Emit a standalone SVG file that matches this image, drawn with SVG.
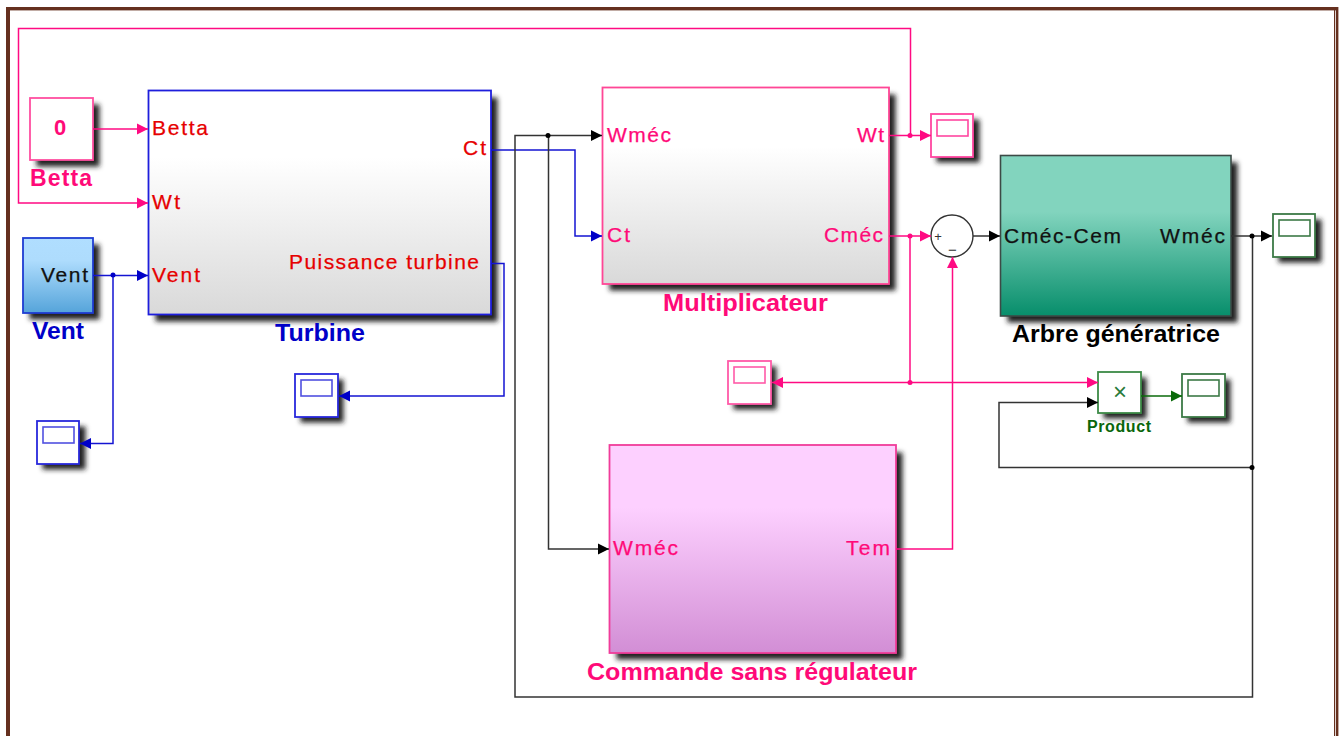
<svg xmlns="http://www.w3.org/2000/svg" width="1343" height="736" viewBox="0 0 1343 736">
<style>
text{font-family:"Liberation Sans",Arial,sans-serif}
.port{font-size:21px;stroke:currentColor;stroke-width:.25}
.title{font-size:23px;font-weight:bold}
.red{fill:#e60000;color:#e60000}
.pink{fill:#ff0a78;color:#ff0a78}
.blue{fill:#0000c8}
.dark{fill:#111;color:#111}
.w{fill:none;stroke-width:1.5}
.wp{stroke:#ff0a82}.wb{stroke:#1414d2}.wk{stroke:#333}.wg{stroke:#0a6a0a}
.shadow{fill:#222;filter:url(#blur);transform:translate(1.500px,1.500px)}
.scope{fill:#fff;stroke-width:1.8}
.inner{fill:none;stroke-width:1.6}
</style>
<defs>
<filter id="blur" x="-25%" y="-25%" width="150%" height="150%"><feGaussianBlur stdDeviation="2.8"/></filter>
<linearGradient id="gw" x1="0" y1="0" x2="0" y2="1"><stop offset="0" stop-color="#fff"/><stop offset=".3" stop-color="#fff"/><stop offset="1" stop-color="#d9d9d9"/></linearGradient>
<linearGradient id="gv" x1="0" y1="0" x2="0" y2="1"><stop offset="0" stop-color="#b0deff"/><stop offset=".3" stop-color="#aedcfd"/><stop offset="1" stop-color="#55a4da"/></linearGradient>
<linearGradient id="gt" x1="0" y1="0" x2="0" y2="1"><stop offset="0" stop-color="#82d4be"/><stop offset=".35" stop-color="#82d4be"/><stop offset="1" stop-color="#078e6b"/></linearGradient>
<linearGradient id="gm" x1="0" y1="0" x2="0" y2="1"><stop offset="0" stop-color="#fdd0ff"/><stop offset=".3" stop-color="#fdd0ff"/><stop offset="1" stop-color="#d28ed5"/></linearGradient>
<marker id="ap" markerUnits="userSpaceOnUse" markerWidth="11" markerHeight="12" refX="11" refY="6" orient="auto"><path d="M0 0.5L11 6L0 11.5Z" fill="#ff0a82"/></marker>
<marker id="ab" markerUnits="userSpaceOnUse" markerWidth="11" markerHeight="12" refX="11" refY="6" orient="auto"><path d="M0 0.5L11 6L0 11.5Z" fill="#0000c8"/></marker>
<marker id="ak" markerUnits="userSpaceOnUse" markerWidth="11" markerHeight="12" refX="11" refY="6" orient="auto"><path d="M0 0.5L11 6L0 11.5Z" fill="#000"/></marker>
<marker id="ag" markerUnits="userSpaceOnUse" markerWidth="11" markerHeight="12" refX="11" refY="6" orient="auto"><path d="M0 0.5L11 6L0 11.5Z" fill="#0a6a0a"/></marker>
</defs>
<rect width="1343" height="736" fill="#fff"/>
<g id="frame" fill="#65301f">
<rect x="6" y="7" width="1332" height="3.4"/>
<rect x="6" y="7" width="4" height="729"/>
<rect x="1334" y="7" width="1.2" height="729"/>
<rect x="1336" y="7" width="2.4" height="729"/>
</g>

<g id="turbine">
<rect class="shadow" x="154" y="96" width="342" height="224"/>
<rect x="148.500" y="90.500" width="342.500" height="224" fill="url(#gw)" stroke="#1e1edc" stroke-width="1.800"/>
<text class="port red" x="152" y="135" textLength="56">Betta</text>
<text class="port red" x="152" y="209" textLength="28">Wt</text>
<text class="port red" x="152" y="282" textLength="48">Vent</text>
<text class="port red" x="463" y="155" textLength="23">Ct</text>
<text class="port red" x="289" y="269" textLength="190">Puissance turbine</text>
<text class="title blue" x="275" y="341" textLength="90" lengthAdjust="spacingAndGlyphs">Turbine</text>
</g>
<g id="betta">
<rect class="shadow" x="35" y="103" width="63" height="62"/>
<rect x="30" y="98" width="63" height="62" fill="#fff" stroke="#ff4fa0" stroke-width="1.800"/>
<text x="60" y="135" text-anchor="middle" font-size="22" font-weight="bold" class="pink">0</text>
<text class="title pink" x="30" y="186" textLength="62">Betta</text>
</g>
<g id="vent">
<rect class="shadow" x="28" y="243" width="70" height="75"/>
<rect x="23" y="238" width="70" height="75" fill="url(#gv)" stroke="#1e3cd2" stroke-width="1.800"/>
<text class="port dark" x="41" y="282" textLength="47">Vent</text>
<text class="title blue" x="32" y="339" textLength="52" lengthAdjust="spacingAndGlyphs">Vent</text>
</g>
<g id="multiplicateur">
<rect class="shadow" x="608" y="93" width="286" height="196"/>
<rect x="602.500" y="87.500" width="286.500" height="196.500" fill="url(#gw)" stroke="#ff4696" stroke-width="1.800"/>
<text class="port pink" x="607" y="142" textLength="64">Wméc</text>
<text class="port pink" x="607" y="242" textLength="23">Ct</text>
<text class="port pink" x="857" y="142" textLength="27">Wt</text>
<text class="port pink" x="824" y="242" textLength="59">Cméc</text>
<text class="title pink" x="663" y="311" textLength="165" lengthAdjust="spacingAndGlyphs">Multiplicateur</text>
</g>
<g id="arbre">
<rect class="shadow" x="1006" y="161" width="230" height="160"/>
<rect x="1000.500" y="155.500" width="230.500" height="160.500" fill="url(#gt)" stroke="#3c4a46" stroke-width="1.600"/>
<text class="port dark" x="1004" y="243" textLength="117">Cméc-Cem</text>
<text class="port dark" x="1160" y="243" textLength="65">Wméc</text>
<text class="title" x="1012" y="342" textLength="208" lengthAdjust="spacingAndGlyphs" fill="#000">Arbre génératrice</text>
</g>
<g id="commande">
<rect class="shadow" x="615" y="451" width="286" height="207"/>
<rect x="609.500" y="445" width="286.500" height="208" fill="url(#gm)" stroke="#f03c9a" stroke-width="1.800"/>
<text class="port pink" x="613" y="555" textLength="65">Wméc</text>
<text class="port pink" x="846" y="555" textLength="44">Tem</text>
<text class="title pink" x="587" y="680" textLength="330" lengthAdjust="spacingAndGlyphs">Commande sans régulateur</text>
</g>
<g id="sum">
<circle cx="952" cy="236" r="21" fill="#fff" stroke="#333" stroke-width="1.400"/>
<text x="938" y="240.500" text-anchor="middle" font-size="13" fill="#333">+</text>
<text x="952.500" y="255" text-anchor="middle" font-size="15" fill="#333">−</text>
</g>
<g id="product">
<rect class="shadow" x="1102" y="376" width="43" height="41"/>
<rect x="1098" y="372" width="43" height="41" fill="#fff" stroke="#3c8a46" stroke-width="1.800"/>
<text x="1120" y="400" text-anchor="middle" font-size="24" fill="#2a7a3a">×</text>
<text x="1087" y="432" textLength="64" font-size="16" font-weight="bold" fill="#0a660a">Product</text>
</g>
<g id="scope-wt">
<rect class="shadow" x="935" y="118" width="43" height="43"/>
<rect class="scope" x="931" y="114" width="42" height="43" stroke="#ff46a0"/>
<rect class="inner" x="937" y="120" width="31" height="16" stroke="#ff46a0"/>
</g>
<g id="scope-cmec">
<rect class="shadow" x="732" y="365" width="43" height="43"/>
<rect class="scope" x="728" y="361" width="43" height="43" stroke="#ff5aa8"/>
<rect class="inner" x="734" y="367" width="31" height="16" stroke="#ff5aa8"/>
</g>
<g id="scope-wmec">
<rect class="shadow" x="1277" y="218" width="43" height="43"/>
<rect class="scope" x="1273" y="214" width="42" height="43" stroke="#3c7a46"/>
<rect class="inner" x="1279" y="220" width="31" height="16" stroke="#3c7a46"/>
</g>
<g id="scope-product">
<rect class="shadow" x="1186" y="378" width="43" height="43"/>
<rect class="scope" x="1182" y="374" width="43" height="43" stroke="#3c7a46"/>
<rect class="inner" x="1188" y="380" width="31" height="16" stroke="#3c7a46"/>
</g>
<g id="scope-puissance">
<rect class="shadow" x="299" y="378" width="43" height="43"/>
<rect class="scope" x="295" y="374" width="43" height="43" stroke="#2828dc"/>
<rect class="inner" x="301" y="380" width="31" height="16" stroke="#5050e0"/>
</g>
<g id="scope-vent">
<rect class="shadow" x="41" y="425" width="43" height="43"/>
<rect class="scope" x="37" y="421" width="42" height="43" stroke="#2828dc"/>
<rect class="inner" x="43" y="427" width="31" height="16" stroke="#5050e0"/>
</g>

<g id="connectors">
<path class="w wp" d="M93 129H148" marker-end="url(#ap)"/>
<path class="w wp" d="M910.500 135V28.500H18.500V203H148" marker-end="url(#ap)"/>
<path class="w wp" d="M889 135.500H931" marker-end="url(#ap)"/>
<path class="w wp" d="M889 236H931" marker-end="url(#ap)"/>
<path class="w wp" d="M910 236V382.500"/>
<path class="w wp" d="M910 382.500H772" marker-end="url(#ap)"/>
<path class="w wp" d="M910 382.500H1098" marker-end="url(#ap)"/>
<path class="w wp" d="M896 549H952.500V257" marker-end="url(#ap)"/>
<path class="w wb" d="M93 275.500H148" marker-end="url(#ab)"/>
<path class="w wb" d="M113 275.500V443.500H80" marker-end="url(#ab)"/>
<path class="w wb" d="M491 150H575V236H602" marker-end="url(#ab)"/>
<path class="w wb" d="M491 263.500H504V396H339" marker-end="url(#ab)"/>
<path class="w wk" d="M1231 236H1272" marker-end="url(#ak)"/>
<path class="w wk" d="M1252.500 236V697H515V135.500H602" marker-end="url(#ak)"/>
<path class="w wk" d="M548.500 135.500V549H609" marker-end="url(#ak)"/>
<path class="w wk" d="M1252.500 467.500H999V402.500H1098" marker-end="url(#ak)"/>
<path class="w wk" d="M973 236H1000" marker-end="url(#ak)"/>
<path class="w wg" d="M1141 396H1182" marker-end="url(#ag)"/>
<g fill="#ff0a82"><circle cx="910" cy="135.500" r="2.500"/><circle cx="910" cy="236" r="2.500"/><circle cx="910" cy="382.500" r="2.500"/></g>
<circle cx="113" cy="275" r="2.500" fill="#0000c8"/>
<g fill="#000"><circle cx="548" cy="135.500" r="2.500"/><circle cx="1252" cy="236" r="2.500"/><circle cx="1252" cy="467.500" r="2.500"/></g>
</g>
</svg>
